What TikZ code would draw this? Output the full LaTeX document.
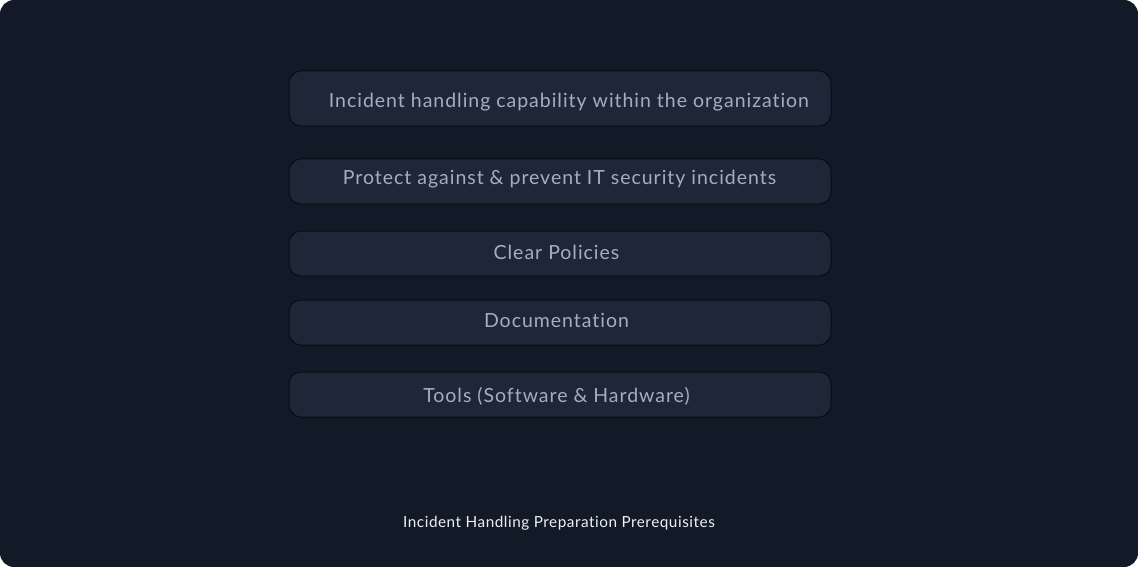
\documentclass[tikz,border=0pt]{standalone}
\usepackage{fontspec}
\setmainfont{Lato}[Ligatures=NoCommon]
\newfontfamily\itemfont{Lato}[LetterSpace=5.0,Ligatures=NoCommon]
\newfontfamily\capfont{Lato}[LetterSpace=3.5,Ligatures=NoCommon]
\definecolor{bgc}{HTML}{131A27}
\definecolor{boxfill}{HTML}{1F2637}
\definecolor{boxline}{HTML}{090C13}
\definecolor{txt}{HTML}{A2ADC6}
\definecolor{captxt}{HTML}{EEF0F4}
\begin{document}
\begin{tikzpicture}[x=1pt,y=-1pt,
  item/.style={draw=boxline, line width=1pt, fill=boxfill, rounded corners=12pt},
  itemtext/.style={text=txt, font=\itemfont\fontsize{19.5}{22}\selectfont, inner sep=0pt, anchor=base},
  caption/.style={text=captxt, font=\capfont\fontsize{15.3}{18}\selectfont, inner sep=0pt, anchor=base}]
\useasboundingbox (0,0) rectangle (1138,567);
\fill[white] (0,0) rectangle (1138,567);
\fill[bgc, rounded corners=14pt] (0,0) rectangle (1138,567);
\draw[item] (289,71) rectangle (831,126);
\draw[item] (289,159) rectangle (831,204);
\draw[item] (289,231) rectangle (831,276);
\draw[item] (289,300) rectangle (831,345);
\draw[item] (289,372) rectangle (831,417);
\node[itemtext] (t1) at (569,108) {Incident handling capability within the organization};
\node[itemtext] (t2) at (559.5,185) {Protect against \& prevent IT security incidents};
\node[itemtext] (t3) at (556.5,259) {Clear Policies};
\node[itemtext] (t4) at (556.5,327) {Documentation};
\node[itemtext] (t5) at (556.5,402) {Tools (Software \& Hardware)};
\node[caption] (cap) at (559,527) {Incident Handling Preparation Prerequisites};
\end{tikzpicture}
\end{document}
